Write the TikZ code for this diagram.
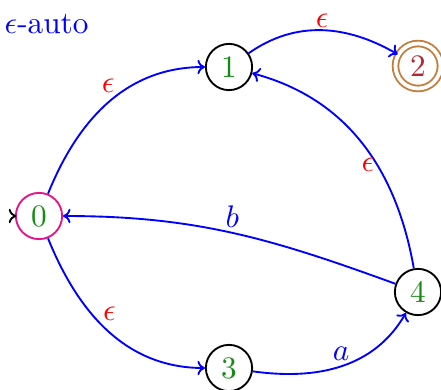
\documentclass[tikz,border=0pt]{standalone}
\usetikzlibrary{arrows.meta}
\definecolor{stgreen}{RGB}{20,140,20}
\definecolor{stmag}{RGB}{228,20,140}
\definecolor{stbrown}{RGB}{195,125,60}
\definecolor{stred}{RGB}{175,40,50}
\begin{document}
\begin{tikzpicture}[x=0.32pt,y=-0.32pt,
  state/.style={circle,draw=black,line width=0.6pt,minimum size=14.8pt,inner sep=0pt,text=stgreen},
  trans/.style={draw=blue,line width=0.6pt,-{To[length=2.4pt,width=4.6pt]}},
  eps/.style={text=red,inner sep=0.6pt},
  lab/.style={text=blue,inner sep=1.5pt}]
\useasboundingbox (0,0) rectangle (441,390);
\node[text=blue,anchor=base west,inner sep=0pt] (title) at (4,33) {$\epsilon$-auto};
\node[state,draw=stmag] (s0) at (39,216) {$0$};
\node[state] (s1) at (229,67) {$1$};
\node[state,draw=stbrown,double=white,double distance=1.2pt,text=stred,minimum size=14.4pt] (s2) at (418,66) {$2$};
\node[state] (s3) at (229,368) {$3$};
\node[state] (s4) at (418,292) {$4$};
\coordinate (init) at (14,216);
\draw[line width=0.6pt,-{To[length=2.4pt,width=4.6pt]},shorten >=-0.4pt] (init) -- (s0.west);
\draw[trans] (s0) to[out=68,in=180] node[eps,pos=0.56,above left] {$\epsilon$} (s1);
\draw[trans] (s1) to[out=35,in=150] node[eps,pos=0.5,above] {$\epsilon$} (s2);
\draw[trans] (s4) to[out=100,in=-15] node[eps,pos=0.4,left] {$\epsilon$} (s1);
\draw[trans] (s4) to[out=160,in=0] node[lab,pos=0.5,above] {$b$} (s0);
\draw[trans] (s0) to[out=-68,in=180] node[eps,pos=0.45,above right] {$\epsilon$} (s3);
\draw[trans] (s3) to[out=-8,in=-120] node[lab,pos=0.5,above] {$a$} (s4);
\end{tikzpicture}
\end{document}
